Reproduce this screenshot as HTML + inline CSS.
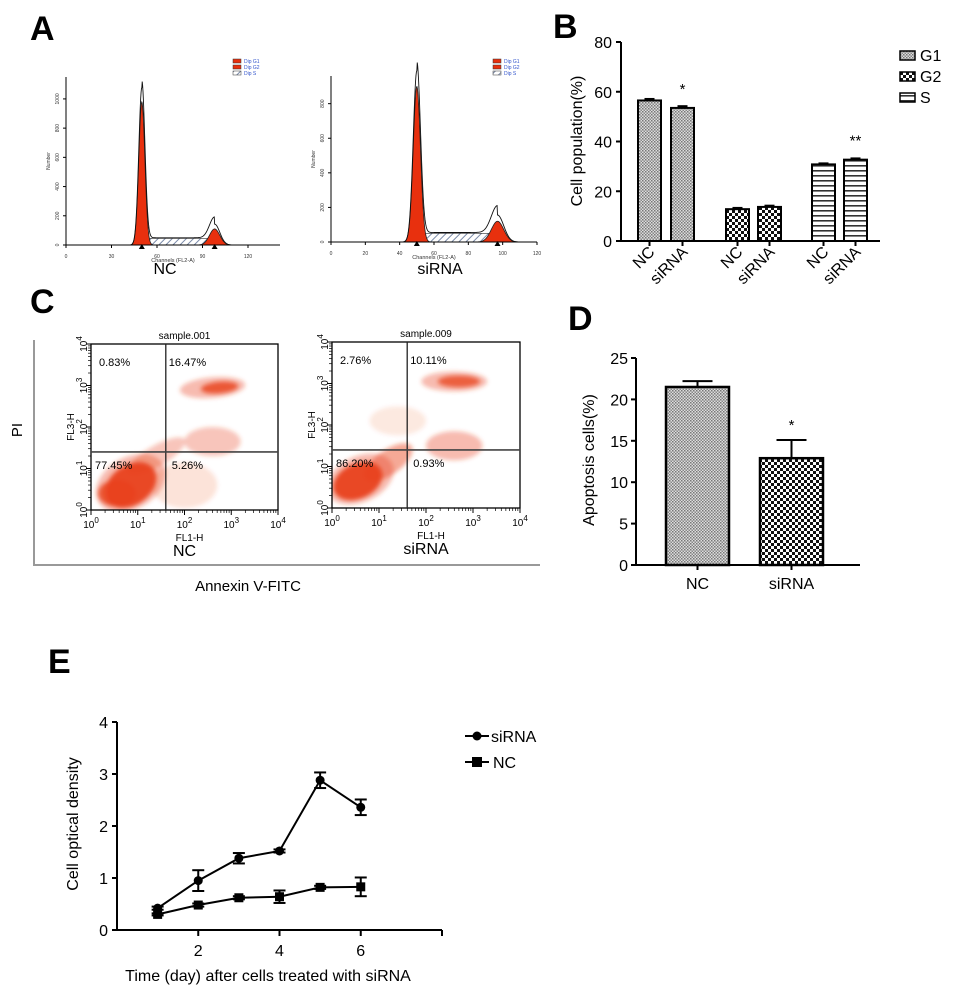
<!DOCTYPE html>
<html><head><meta charset="utf-8">
<style>
html,body{margin:0;padding:0;background:#fff}
svg{display:block;font-family:"Liberation Sans",Arial,sans-serif}
</style></head>
<body>
<svg id="fig" width="953" height="998" viewBox="0 0 953 998" xmlns="http://www.w3.org/2000/svg">
<defs>
<pattern id="pG1" width="3" height="3" patternUnits="userSpaceOnUse"><rect width="3" height="3" fill="#ddd"/><rect width="1.5" height="1.5" fill="#777"/><rect x="1.5" y="1.5" width="1.5" height="1.5" fill="#888"/></pattern>
<pattern id="pG2" width="6" height="6" patternUnits="userSpaceOnUse"><rect width="6" height="6" fill="#fff"/><rect width="3" height="3" fill="#111"/><rect x="3" y="3" width="3" height="3" fill="#111"/></pattern>
<pattern id="pS" width="6" height="5" patternUnits="userSpaceOnUse"><rect width="6" height="5" fill="#fff"/><rect y="0" width="6" height="1.6" fill="#333"/></pattern>
<pattern id="pHatch" width="5" height="5" patternUnits="userSpaceOnUse" patternTransform="rotate(45)"><rect width="5" height="5" fill="#fff"/><rect width="1" height="5" fill="#7a8aa8"/></pattern>
<filter id="blur" x="-50%" y="-50%" width="200%" height="200%"><feGaussianBlur stdDeviation="2.2"/></filter>
</defs>
<g font-weight="bold" font-size="34" fill="#000">
<text x="30" y="40">A</text>
<text x="553" y="38">B</text>
<text x="30" y="313">C</text>
<text x="568" y="330">D</text>
<text x="48" y="673">E</text>
</g>
<g id="panelA"></g>
<g id="panelB"></g>
<g id="panelC"></g>
<g id="panelD"></g>
<g id="panelE"></g>
</svg>
<script>
// ===== Panel B data =====
const bCategories = ["NC","siRNA","NC","siRNA","NC","siRNA"];
const bPhases = ["G1","G1","G2","G2","S","S"];
const bValues = [56.5, 53.5, 12.8, 13.7, 30.8, 32.7];
const bErrors = [0.6, 0.7, 0.5, 0.5, 0.4, 0.5];
const bStars = ["","*","","","","**"];
const bTicks = [0,20,40,60,80];
// ===== Panel D data =====
const dCategories = ["NC","siRNA"];
const dValues = [21.5, 12.9];
const dErrors = [0.7, 2.2];
const dTicks = [0,5,10,15,20,25];
// ===== Panel E data =====
const eDays = [1,2,3,4,5,6];
const eSiRNA = [0.42,0.95,1.38,1.52,2.88,2.36];
const eSiRNAErr = [0.03,0.2,0.1,0.03,0.15,0.15];
const eNC = [0.3,0.48,0.62,0.64,0.82,0.83];
const eNCErr = [0.02,0.03,0.03,0.12,0.03,0.18];
const eYTicks = [0,1,2,3,4];
const eXTicks = [2,4,6];
// ===== Panel C data =====
const cNames = ["NC","siRNA"];
const cSamples = ["sample.001","sample.009"];
const cQuadUL = ["0.83%","2.76%"];
const cQuadUR = ["16.47%","10.11%"];
const cQuadLL = ["77.45%","86.20%"];
const cQuadLR = ["5.26%","0.93%"];
const cGateX = [1.6,1.6];
const cGateY = [1.4,1.4];
// populations: [log x, log y, rx, ry, rotation, opacity]
const cPopsNC = [[0.85,0.65,0.8,0.62,-30,0.35],[0.85,0.6,0.6,0.48,-35,0.95],[0.55,0.4,0.4,0.32,0,0.8],[2.6,2.95,0.7,0.25,-5,0.35],[2.75,2.95,0.4,0.14,-5,0.8],[2.6,1.65,0.6,0.35,0,0.3],[2.0,0.6,0.7,0.55,0,0.15],[1.4,1.3,0.7,0.25,-30,0.3]];
const cPopsSi = [[0.6,0.7,0.75,0.55,-25,0.35],[0.55,0.65,0.55,0.42,-25,0.95],[1.2,1.1,0.6,0.3,-35,0.45],[2.6,3.05,0.7,0.24,0,0.35],[2.7,3.05,0.45,0.14,0,0.75],[2.6,1.5,0.6,0.35,0,0.35],[1.4,2.1,0.6,0.35,0,0.12]];
// ===== Panel A data =====
const aNames = ["NC","siRNA"];
const aXMax = [140,120];
const aYMax = [1150,960];
const aXTicks = [[0,30,60,90,120],[0,20,40,60,80,100,120]];
const aYTicks = [[0,200,400,600,800,1000],[0,200,400,600,800]];
const aG1 = [[50,980,2.0],[50,900,2.1]]; // [channel, height, sd]
const aG2 = [[98,110,3.4],[97,120,3.6]];
const aS = [45,50];

const NS="http://www.w3.org/2000/svg";
function mk(parent,tag,attrs,text){const e=document.createElementNS(NS,tag);for(const k in attrs)e.setAttribute(k,attrs[k]);if(text!==undefined)e.textContent=text;parent.appendChild(e);return e;}

// ---------- Panel B ----------
(function(){
 const g=document.getElementById('panelB');
 const x0=621,yb=241,yt=42,xEnd=880;
 const y=v=>yb-(v/80)*(yb-yt);
 const barX=[638,671,726,758,812,844], bw=23;
 const fills={G1:"url(#pG1)",G2:"url(#pG2)",S:"url(#pS)"};
 let a=mk(g,'line',{x1:x0,y1:yt,x2:x0,y2:yb,stroke:'#000','stroke-width':2});
 
 a=mk(g,'line',{x1:x0,y1:yb,x2:xEnd,y2:yb,stroke:'#000','stroke-width':2});
 
 bTicks.forEach(t=>{mk(g,'line',{x1:x0-5,y1:y(t),x2:x0,y2:y(t),stroke:'#000','stroke-width':2});
  const tx=mk(g,'text',{x:x0-9,y:y(t)+6,'text-anchor':'end','font-size':16},t);
  });
 bValues.forEach((v,i)=>{
  const r=mk(g,'rect',{x:barX[i],y:y(v),width:bw,height:yb-y(v),fill:fills[bPhases[i]],stroke:'#000','stroke-width':2});
  
  
  const cx=barX[i]+bw/2;
  mk(g,'line',{x1:cx,y1:y(v+bErrors[i]),x2:cx,y2:y(v),stroke:'#000','stroke-width':2});
  mk(g,'line',{x1:cx-5,y1:y(v+bErrors[i]),x2:cx+5,y2:y(v+bErrors[i]),stroke:'#000','stroke-width':2});
  mk(g,'line',{x1:cx,y1:yb,x2:cx,y2:yb+5,stroke:'#000','stroke-width':2});
  if(bStars[i]){const s=mk(g,'text',{x:cx,y:y(v)-14,'text-anchor':'middle','font-size':15},bStars[i]);
   }
  const l=mk(g,'text',{x:cx+6,y:yb+12,'text-anchor':'end','font-size':16,transform:`rotate(-45 ${cx+6} ${yb+12})`},bCategories[i]);
  
 });
 const yl=mk(g,'text',{x:582,y:141,'text-anchor':'middle','font-size':16,transform:'rotate(-90 582 141)'},'Cell population(%)');
 
 ["G1","G2","S"].forEach((p,i)=>{
  const ly=51+i*21;
  const lg=mk(g,'g',{});
  
  mk(lg,'rect',{x:900,y:ly,width:15,height:9,fill:fills[p],stroke:'#000','stroke-width':1.5});
  mk(lg,'text',{x:920,y:ly+10,'font-size':16},p);
 });
})();

// ---------- Panel D ----------
(function(){
 const g=document.getElementById('panelD');
 const x0=636,yb=565,yt=358,xEnd=860;
 const y=v=>yb-(v/25)*(yb-yt);
 const barX=[666,760],bw=63;
 const fills=["url(#pG1)","url(#pG2)"];
 let a=mk(g,'line',{x1:x0,y1:yt,x2:x0,y2:yb,stroke:'#000','stroke-width':2});
 
 a=mk(g,'line',{x1:x0,y1:yb,x2:xEnd,y2:yb,stroke:'#000','stroke-width':2});
 
 dTicks.forEach(t=>{mk(g,'line',{x1:x0-5,y1:y(t),x2:x0,y2:y(t),stroke:'#000','stroke-width':2});
  const tx=mk(g,'text',{x:x0-8,y:y(t)+6,'text-anchor':'end','font-size':16},t);
  });
 dValues.forEach((v,i)=>{
  const cx=barX[i]+bw/2;
  mk(g,'line',{x1:cx,y1:y(v+dErrors[i]),x2:cx,y2:y(v),stroke:'#000','stroke-width':2});
  mk(g,'line',{x1:cx-15,y1:y(v+dErrors[i]),x2:cx+15,y2:y(v+dErrors[i]),stroke:'#000','stroke-width':2});
  const r=mk(g,'rect',{x:barX[i],y:y(v),width:bw,height:yb-y(v),fill:fills[i],stroke:'#000','stroke-width':2.5});
  
  mk(g,'line',{x1:cx,y1:yb,x2:cx,y2:yb+5,stroke:'#000','stroke-width':2});
  const l=mk(g,'text',{x:cx,y:yb+24,'text-anchor':'middle','font-size':16},dCategories[i]);
  
 });
 const s=mk(g,'text',{x:barX[1]+bw/2,y:y(dValues[1]+dErrors[1])-10,'text-anchor':'middle','font-size':15},'*');
 
 const yl=mk(g,'text',{x:594,y:460,'text-anchor':'middle','font-size':16,transform:'rotate(-90 594 460)'},'Apoptosis cells(%)');
 
})();

// ---------- Panel E ----------
(function(){
 const g=document.getElementById('panelE');
 const x0=117,yb=930,yt=722,xEnd=442;
 const x=d=>x0+(d/8)*(xEnd-x0);
 const y=v=>yb-(v/4)*(yb-yt);
 let a=mk(g,'line',{x1:x0,y1:yt,x2:x0,y2:yb,stroke:'#000','stroke-width':2});
 
 a=mk(g,'line',{x1:x0,y1:yb,x2:xEnd,y2:yb,stroke:'#000','stroke-width':2});
 
 mk(g,'line',{x1:xEnd,y1:yb,x2:xEnd,y2:yb+6,stroke:'#000','stroke-width':2});
 eYTicks.forEach(t=>{mk(g,'line',{x1:x0-5,y1:y(t),x2:x0,y2:y(t),stroke:'#000','stroke-width':2});
  const tx=mk(g,'text',{x:x0-9,y:y(t)+6,'text-anchor':'end','font-size':16},t);
  });
 eXTicks.forEach(t=>{mk(g,'line',{x1:x(t),y1:yb,x2:x(t),y2:yb+6,stroke:'#000','stroke-width':2});
  const tx=mk(g,'text',{x:x(t),y:yb+26,'text-anchor':'middle','font-size':16},t);
  });
 function series(vals,errs,name,marker){
  const sg=mk(g,'g',{});
  
  mk(sg,'polyline',{points:vals.map((v,i)=>x(eDays[i])+','+y(v)).join(' '),fill:'none',stroke:'#000','stroke-width':2});
  vals.forEach((v,i)=>{
   const cx=x(eDays[i]),cy=y(v),e=errs[i];
   mk(sg,'line',{x1:cx,y1:y(v+e),x2:cx,y2:y(v-e),stroke:'#000','stroke-width':2});
   mk(sg,'line',{x1:cx-6,y1:y(v+e),x2:cx+6,y2:y(v+e),stroke:'#000','stroke-width':2});
   mk(sg,'line',{x1:cx-6,y1:y(v-e),x2:cx+6,y2:y(v-e),stroke:'#000','stroke-width':2});
   let m;
   if(marker==='circle') m=mk(sg,'circle',{cx:cx,cy:cy,r:4.5,fill:'#000'});
   else m=mk(sg,'rect',{x:cx-4.5,y:cy-4.5,width:9,height:9,fill:'#000'});
   
  });
 }
 series(eNC,eNCErr,'nc','square');
 series(eSiRNA,eSiRNAErr,'sirna','circle');
 const lg1=mk(g,'g',{});
 mk(lg1,'line',{x1:465,y1:736,x2:489,y2:736,stroke:'#000','stroke-width':2});
 mk(lg1,'circle',{cx:477,cy:736,r:4.5,fill:'#000'});
 mk(lg1,'text',{x:491,y:742,'font-size':16},'siRNA');
 const lg2=mk(g,'g',{});
 mk(lg2,'line',{x1:465,y1:762,x2:489,y2:762,stroke:'#000','stroke-width':2});
 mk(lg2,'rect',{x:472,y:757,width:10,height:10,fill:'#000'});
 mk(lg2,'text',{x:493,y:768,'font-size':16},'NC');
 const yl=mk(g,'text',{x:78,y:824,'text-anchor':'middle','font-size':16,transform:'rotate(-90 78 824)'},'Cell optical density');
 
 const xl=mk(g,'text',{x:268,y:981,'text-anchor':'middle','font-size':16},'Time (day) after cells treated with siRNA');
 
})();

// ---------- Panel C ----------
(function(){
 const g=document.getElementById('panelC');
 const boxes=[[91,344,278,510],[332,342,520,508]];
 const pops=[cPopsNC,cPopsSi];
 const fr=mk(g,'path',{d:'M34 340 L34 565 L540 565',fill:'none',stroke:'#999','stroke-width':2});
 
 const pi=mk(g,'text',{x:22,y:430,'text-anchor':'middle','font-size':15,transform:'rotate(-90 22 430)'},'PI');
 
 const an=mk(g,'text',{x:248,y:591,'text-anchor':'middle','font-size':15},'Annexin V-FITC');
 
 boxes.forEach((b,k)=>{
  const [x1,y1,x2,y2]=b;
  const X=d=>x1+d/4*(x2-x1), Y=d=>y2-d/4*(y2-y1);
  const sg=mk(g,'g',{});
  
  const clip='clip'+k;
  const cp=mk(mk(sg,'defs',{}),'clipPath',{id:clip});mk(cp,'rect',{x:x1,y:y1,width:x2-x1,height:y2-y1});
  const cl=mk(sg,'g',{filter:'url(#blur)','clip-path':`url(#${clip})`});
  pops[k].forEach(p=>{
   const cx=X(p[0]),cy=Y(p[1]),rx=p[2]/4*(x2-x1),ry=p[3]/4*(y2-y1);
   const e=mk(cl,'ellipse',{cx:cx,cy:cy,rx:rx,ry:ry,fill:'#e8401a','fill-opacity':p[5],transform:`rotate(${p[4]} ${cx} ${cy})`});
   
  });
  mk(sg,'rect',{x:x1,y:y1,width:x2-x1,height:y2-y1,fill:'none',stroke:'#000','stroke-width':1.3});
  mk(sg,'line',{x1:X(cGateX[k]),y1:y1,x2:X(cGateX[k]),y2:y2,stroke:'#222','stroke-width':1.3});
  mk(sg,'line',{x1:x1,y1:Y(cGateY[k]),x2:x2,y2:Y(cGateY[k]),stroke:'#444','stroke-width':1.6});
  for(let d=0;d<=4;d++){
   mk(sg,'line',{x1:X(d),y1:y2,x2:X(d),y2:y2+5,stroke:'#000','stroke-width':1});
   mk(sg,'line',{x1:x1-5,y1:Y(d),x2:x1,y2:Y(d),stroke:'#000','stroke-width':1});
   const t=mk(sg,'text',{x:X(d),y:y2+18,'text-anchor':'middle','font-size':10},'10');
   mk(t,'tspan',{dy:-5,'font-size':8},d);
   
   const ty=mk(sg,'text',{x:x1-9,y:Y(d)+5,'text-anchor':'middle','font-size':10,transform:`rotate(-90 ${x1-9} ${Y(d)})`},'10');
   mk(ty,'tspan',{dy:-5,'font-size':8},d);
   
   if(d<4)for(let m=2;m<10;m++){const lx=X(d+Math.log10(m)),ly=Y(d+Math.log10(m));
    mk(sg,'line',{x1:lx,y1:y2,x2:lx,y2:y2+3,stroke:'#000','stroke-width':0.7});
    mk(sg,'line',{x1:x1-3,y1:ly,x2:x1,y2:ly,stroke:'#000','stroke-width':0.7});}
  }
  const fs={'font-size':11};
  mk(sg,'text',Object.assign({x:(x1+x2)/2,y:y1-5,'text-anchor':'middle'},{'font-size':10}),cSamples[k]);
  mk(sg,'text',Object.assign({x:x1+8,y:y1+22},fs),cQuadUL[k]);
  mk(sg,'text',Object.assign({x:X(cGateX[k])+3,y:y1+22},fs),cQuadUR[k]);
  mk(sg,'text',Object.assign({x:x1+4,y:Y(cGateY[k])+17},fs),cQuadLL[k]);
  mk(sg,'text',Object.assign({x:X(cGateX[k])+6,y:Y(cGateY[k])+17},fs),cQuadLR[k]);
  mk(sg,'text',{x:(x1+x2)/2+5,y:y2+31,'text-anchor':'middle','font-size':10},'FL1-H');
  mk(sg,'text',{x:x1-17,y:(y1+y2)/2,'text-anchor':'middle','font-size':10,transform:`rotate(-90 ${x1-17} ${(y1+y2)/2})`},'FL3-H');
  const nl=mk(sg,'text',{x:(x1+x2)/2,y:y2+46,'text-anchor':'middle','font-size':16},cNames[k]);
  
 });
})();

// ---------- Panel A ----------
(function(){
 const g=document.getElementById('panelA');
 const boxes=[[66,77,280,245],[331,76,537,242]];
 boxes.forEach((b,k)=>{
  const [x1,y1,x2,y2]=b;
  const axW=(k===0)? (248-66)/120 : (x2-x1)/120;
  const X=c=>x1+c*axW, Y=v=>y2-v/aYMax[k]*(y2-y1);
  const sg=mk(g,'g',{});
  
  const [g1c,g1h,g1s]=aG1[k],[g2c,g2h,g2s]=aG2[k];
  const gauss=(c,m,h,s)=>h*Math.exp(-((c-m)*(c-m))/(2*s*s));
  const sLev=c=>(c>g1c&&c<g2c)?aS[k]:0;
  let sp=`M${X(g1c)} ${y2}`;for(let c=g1c;c<=g2c;c+=1)sp+=` L${X(c)} ${Y(sLev(c))}`;sp+=` L${X(g2c)} ${y2} Z`;
  mk(sg,'path',{d:sp,fill:'url(#pHatch)',stroke:'#333','stroke-width':0.6});
  [[g1c,g1h,g1s],[g2c,g2h,g2s]].forEach(p=>{
   let d=`M${X(p[0]-4*p[2])} ${y2}`;for(let c=p[0]-4*p[2];c<=p[0]+4*p[2];c+=0.25)d+=` L${X(c)} ${Y(gauss(c,p[0],p[1],p[2]))}`;d+=` L${X(p[0]+4*p[2])} ${y2} Z`;
   const pk=mk(sg,'path',{d:d,fill:'#e8300e',stroke:'#222','stroke-width':0.8});
   
  });
  let tot=`M${X(40)} ${y2}`;for(let c=40;c<=112;c+=0.25)tot+=` L${X(c)} ${Y(gauss(c,g1c,g1h*1.1,g1s)+gauss(c,g2c,g2h*1.3,g2s)+sLev(c)*1.1)}`;
  mk(sg,'path',{d:tot,fill:'none',stroke:'#111','stroke-width':0.9});
  mk(sg,'line',{x1:x1,y1:y1,x2:x1,y2:y2,stroke:'#000','stroke-width':1});
  mk(sg,'line',{x1:x1,y1:y2,x2:x2,y2:y2,stroke:'#000','stroke-width':1});
  aXTicks[k].forEach(t=>{mk(sg,'line',{x1:X(t),y1:y2,x2:X(t),y2:y2+3,stroke:'#000'});
   mk(sg,'text',{x:X(t),y:y2+13,'text-anchor':'middle','font-size':5,fill:'#333'},t);});
  aYTicks[k].forEach(t=>{mk(sg,'line',{x1:x1-3,y1:Y(t),x2:x1,y2:Y(t),stroke:'#000'});
   mk(sg,'text',{x:x1-7,y:Y(t),'text-anchor':'middle','font-size':5,fill:'#333',transform:`rotate(-90 ${x1-7} ${Y(t)})`},t);});
  [g1c,g2c].forEach(c=>mk(sg,'path',{d:`M${X(c)-3} ${y2+4} L${X(c)+3} ${y2+4} L${X(c)} ${y2-1} Z`,fill:'#000'}));
  mk(sg,'text',{x:(x1+x2)/2,y:y2+17,'text-anchor':'middle','font-size':5.5,fill:'#333'},'Channels (FL2-A)');
  mk(sg,'text',{x:x1-16,y:(y1+y2)/2,'text-anchor':'middle','font-size':5,fill:'#333',transform:`rotate(-90 ${x1-16} ${(y1+y2)/2})`},'Number');
  const lx=(k===0)?233:493;
  ["Dip G1","Dip G2","Dip S"].forEach((n,i)=>{
   mk(sg,'rect',{x:lx,y:59+i*6,width:8,height:4,fill:i<2?'#e8300e':'url(#pHatch)',stroke:'#333','stroke-width':0.5});
   mk(sg,'text',{x:lx+11,y:63+i*6,'font-size':5,fill:'#3355cc'},n);
  });
  const nl=mk(sg,'text',{x:(k===0)?165:440,y:274,'text-anchor':'middle','font-size':16},aNames[k]);
  
 });
})();
</script>
</body></html>
